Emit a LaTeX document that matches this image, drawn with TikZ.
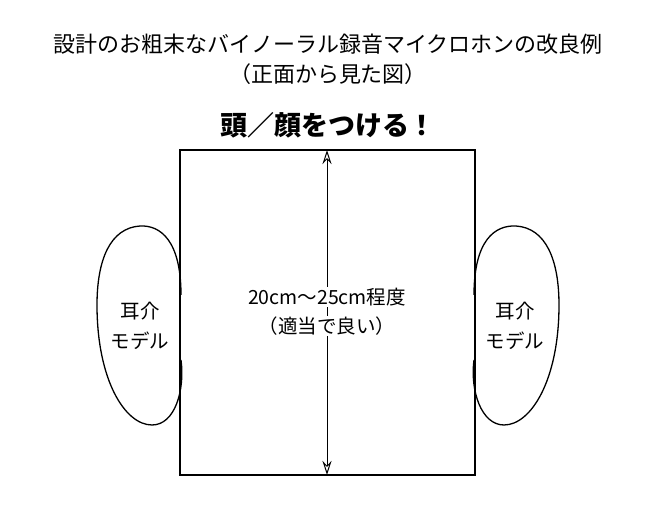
\documentclass[tikz,border=0pt]{standalone}
\usepackage{fontspec}
\setmainfont{Noto Sans CJK JP}
\usetikzlibrary{arrows.meta}
\begin{document}
\begin{tikzpicture}[x=1pt,y=-1pt,
  ttl/.style={font=\fontsize{22}{26}\selectfont, inner sep=1pt},
  txt/.style={font=\fontsize{19.5}{30}\selectfont, inner sep=1pt},
  line/.style={line width=1.3pt}]
\useasboundingbox (0,0) rectangle (657,510);
\node[ttl] (t1) at (328,44) {設計のお粗末なバイノーラル録音マイクロホンの改良例};
\node[ttl] (t2) at (328,74) {（正面から見た図）};
\node[font=\fontsize{27}{30}\bfseries\selectfont] (h) at (328,125) {頭／顔をつける！};
\node[draw,line,minimum width=295pt,minimum height=325pt,inner sep=0pt] (head) at (327.5,312.5) {};
\coordinate (top) at (327,150);
\coordinate (bot) at (327,475);
\draw[line width=1pt,{Stealth[open,length=14pt,width=9pt]}-{Stealth[open,length=14pt,width=9pt]}] (top) -- (bot);
\node[txt,fill=white] (m1) at (327,297) {20cm～25cm程度};
\node[txt,fill=white] (m2) at (327,326) {（適当で良い）};
\draw[line] (181,295) .. controls (181,240) and (160,225) .. (140,226)
  .. controls (110,228) and (97,260) .. (97,305)
  .. controls (97,380) and (125,425) .. (152,425)
  .. controls (175,425) and (185,390) .. (181,360);
\draw[line] (474,295) .. controls (474,240) and (495,225) .. (516,226)
  .. controls (546,228) and (559,260) .. (559,305)
  .. controls (559,380) and (531,425) .. (504,425)
  .. controls (481,425) and (470,390) .. (474,360);
\node[txt,align=center] (e1) at (140,326) {耳介\\モデル};
\node[txt,align=center] (e2) at (515,326) {耳介\\モデル};
\end{tikzpicture}
\end{document}
